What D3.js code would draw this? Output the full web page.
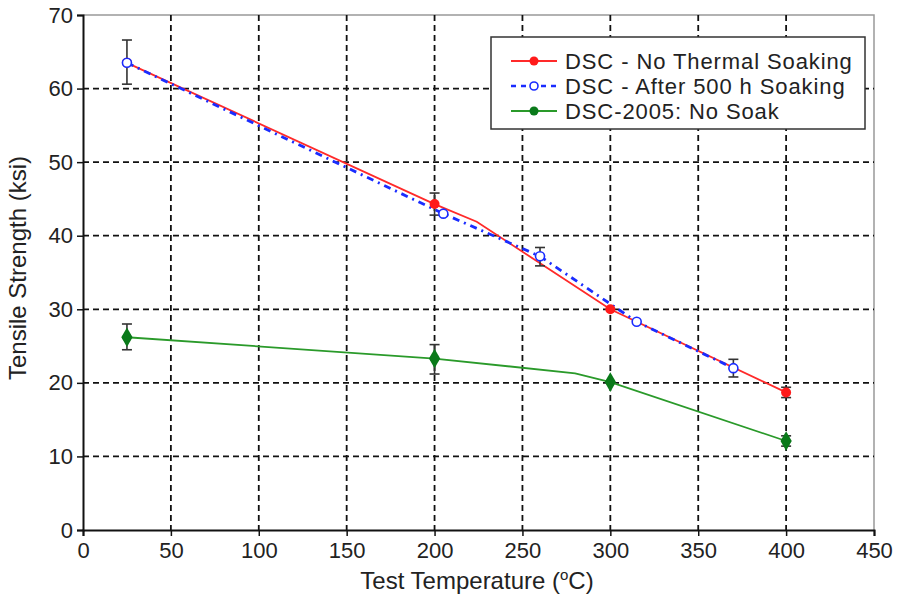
<!DOCTYPE html>
<html>
<head>
<meta charset="utf-8">
<script src="https://cdn.jsdelivr.net/npm/d3@7"></script>
<style>
  body { margin: 0; background: #fff; }
  text { font-family: "Liberation Sans", Arial, sans-serif; fill: #222; }
</style>
</head>
<body>
<svg id="chart" width="899" height="603"></svg>
<script>
const svg = d3.select('#chart');

// tick values
const xTicks = [0, 50, 100, 150, 200, 250, 300, 350, 400, 450];
const yTicks = [0, 10, 20, 30, 40, 50, 60, 70];

// markers: [temperature, strength, errLow, errHigh] (err null = no bar)
const redPts = [[25, 63.5, null, null], [200, 44.3, 42.8, 45.8], [300, 30.0, null, null], [400, 18.7, 18.0, 19.4]];
const bluePts = [[25, 63.5, 60.6, 66.6], [205, 43.0, null, null], [260, 37.2, 35.9, 38.4], [315, 28.3, null, null], [370, 22.0, 20.8, 23.2]];
const greenPts = [[25, 26.2, 24.5, 28.0], [200, 23.3, 21.2, 25.2], [300, 20.1, null, null], [400, 12.1, 11.4, 12.8]];

// line vertices
const redLine = [[25, 63.5], [200, 44.3], [224, 41.9], [300, 30.0], [400, 18.7]];
const blueLine = [[25, 63.5], [205, 43.0], [260, 37.2], [315, 28.3], [370, 22.0]];
const greenLine = [[25, 26.2], [200, 23.3], [280, 21.3], [300, 20.1], [400, 12.1]];

const legendLabels = ['DSC - No Thermal Soaking', 'DSC - After 500 h Soaking', 'DSC-2005: No Soak'];

const mLeft = 83, mRight = 874, mTop = 15, mBottom = 530;

const x = d3.scaleLinear().domain([0, 450]).range([mLeft, mRight]);
const y = d3.scaleLinear().domain([0, 70]).range([mBottom, mTop]);
const line = d3.line().x(d => x(d[0])).y(d => y(d[1]));

// gray frame on top and right
svg.append('path')
  .attr('d', `M${mLeft},${mTop}H${mRight}V${mBottom}`)
  .attr('fill', 'none')
  .attr('stroke', '#999')
  .attr('stroke-width', 1.5);

// dashed grid
svg.selectAll('.vgrid')
  .data(xTicks.filter(d => d > 0 && d < 450))
  .enter()
  .append('line')
  .attr('x1', d => x(d)).attr('x2', d => x(d))
  .attr('y1', mTop).attr('y2', mBottom)
  .attr('stroke', '#111')
  .attr('stroke-width', 1.8)
  .attr('stroke-dasharray', '6,4');

svg.selectAll('.hgrid')
  .data(yTicks.filter(d => d > 0 && d < 70))
  .enter()
  .append('line')
  .attr('x1', mLeft).attr('x2', mRight)
  .attr('y1', d => y(d)).attr('y2', d => y(d))
  .attr('stroke', '#111')
  .attr('stroke-width', 1.8)
  .attr('stroke-dasharray', '6,4');

// axes
const xAxis = svg.append('g')
  .attr('transform', `translate(0,${mBottom})`)
  .call(d3.axisBottom(x).tickValues(xTicks).tickSize(6).tickPadding(6));
const yAxis = svg.append('g')
  .attr('transform', `translate(${mLeft},0)`)
  .call(d3.axisLeft(y).tickValues(yTicks).tickSize(6).tickPadding(4));

[xAxis, yAxis].forEach(g => {
  g.select('.domain').attr('stroke', '#111').attr('stroke-width', 2);
  g.selectAll('.tick line').attr('stroke', '#111').attr('stroke-width', 1.5);
  g.selectAll('.tick text')
    .attr('font-family', '"Liberation Sans", Arial, sans-serif')
    .attr('font-size', 22)
    .attr('fill', '#222');
});

// legend box (behind the data)
const lg = svg.append('g');
lg.append('rect')
  .attr('x', 491).attr('y', 37)
  .attr('width', 374).attr('height', 92)
  .attr('fill', '#fff')
  .attr('stroke', '#333')
  .attr('stroke-width', 1.5);

// series lines
svg.append('path').datum(redLine)
  .attr('d', line).attr('fill', 'none')
  .attr('stroke', '#ff2a2a').attr('stroke-width', 1.8);

svg.append('path').datum(blueLine)
  .attr('d', line).attr('fill', 'none')
  .attr('stroke', '#1a2cff').attr('stroke-width', 2.8)
  .attr('stroke-dasharray', '7,5,2,5');

svg.append('path').datum(greenLine)
  .attr('d', line).attr('fill', 'none')
  .attr('stroke', '#2a9a2a').attr('stroke-width', 1.8);

// error bars
function errorBars(data) {
  const d = data.filter(p => p[2] !== null);
  const g = svg.append('g').attr('stroke', '#333').attr('stroke-width', 1.6);
  g.selectAll('.eb').data(d).enter().append('line')
    .attr('x1', p => x(p[0])).attr('x2', p => x(p[0]))
    .attr('y1', p => y(p[2])).attr('y2', p => y(p[3]));
  g.selectAll('.cl').data(d).enter().append('line')
    .attr('x1', p => x(p[0]) - 5).attr('x2', p => x(p[0]) + 5)
    .attr('y1', p => y(p[2])).attr('y2', p => y(p[2]));
  g.selectAll('.ch').data(d).enter().append('line')
    .attr('x1', p => x(p[0]) - 5).attr('x2', p => x(p[0]) + 5)
    .attr('y1', p => y(p[3])).attr('y2', p => y(p[3]));
}
errorBars(redPts);
errorBars(bluePts);
errorBars(greenPts);

// markers
svg.selectAll('.redpt').data(redPts).enter().append('circle')
  .attr('cx', p => x(p[0])).attr('cy', p => y(p[1])).attr('r', 5)
  .attr('fill', '#ff1a1a');

svg.selectAll('.greenpt').data(greenPts).enter().append('path')
  .attr('transform', p => `translate(${x(p[0])},${y(p[1])})`)
  .attr('d', d3.symbol(d3.symbolDiamond, 110))
  .attr('fill', '#0a7a1a');
svg.selectAll('.greendot').data(greenPts).enter().append('circle')
  .attr('cx', p => x(p[0])).attr('cy', p => y(p[1])).attr('r', 4.5)
  .attr('fill', '#0a7a1a');

svg.selectAll('.bluept').data(bluePts).enter().append('circle')
  .attr('cx', p => x(p[0])).attr('cy', p => y(p[1])).attr('r', 4.5)
  .attr('fill', '#fff').attr('stroke', '#1a2cff').attr('stroke-width', 1.6);

// legend entries
const rows = [61, 86, 111];
lg.append('line').attr('x1', 511).attr('x2', 557).attr('y1', rows[0]).attr('y2', rows[0])
  .attr('stroke', '#ff2a2a').attr('stroke-width', 1.8);
lg.append('circle').attr('cx', 534).attr('cy', rows[0]).attr('r', 4.5).attr('fill', '#ff1a1a');

lg.append('line').attr('x1', 511).attr('x2', 557).attr('y1', rows[1]).attr('y2', rows[1])
  .attr('stroke', '#1a2cff').attr('stroke-width', 2.5).attr('stroke-dasharray', '5,5');
lg.append('circle').attr('cx', 534).attr('cy', rows[1]).attr('r', 4).attr('fill', '#fff')
  .attr('stroke', '#1a2cff').attr('stroke-width', 1.6);

lg.append('line').attr('x1', 511).attr('x2', 557).attr('y1', rows[2]).attr('y2', rows[2])
  .attr('stroke', '#2a9a2a').attr('stroke-width', 1.8);
lg.append('circle').attr('cx', 534).attr('cy', rows[2]).attr('r', 4.5).attr('fill', '#0a7a1a');

lg.selectAll('.lt').data(legendLabels).enter().append('text')
  .attr('x', 565).attr('y', (d, i) => rows[i] + 8)
  .attr('font-size', 22)
  .attr('letter-spacing', 0.9)
  .text(d => d);

// axis titles
const xt = svg.append('text')
  .attr('x', 477).attr('y', 589)
  .attr('text-anchor', 'middle')
  .attr('font-size', 24);
xt.append('tspan').text('Test Temperature (');
xt.append('tspan').attr('font-size', 15).attr('dy', -9).text('o');
xt.append('tspan').attr('dy', 9).text('C)');

svg.append('text')
  .attr('transform', 'translate(26,268) rotate(-90)')
  .attr('text-anchor', 'middle')
  .attr('font-size', 24)
  .text('Tensile Strength (ksi)');
</script>
</body>
</html>
